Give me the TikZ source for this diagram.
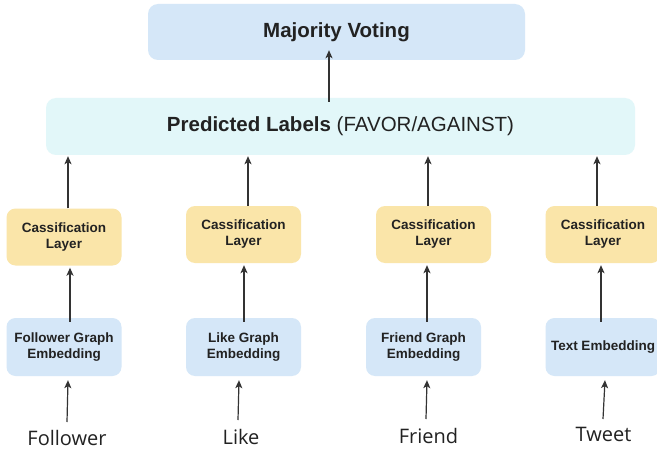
\documentclass[tikz,border=0pt]{standalone}
\usepackage{fontspec}
\setmainfont{Liberation Sans}
\newfontfamily\inlab{Open Sans}
\usetikzlibrary{arrows.meta}
\definecolor{txt}{HTML}{222222}
\definecolor{arrc}{HTML}{333333}
\definecolor{blueb}{HTML}{D5E7F8}
\definecolor{cyanb}{HTML}{E2F7F9}
\definecolor{yelb}{HTML}{FAE5A9}
\tikzset{
  bigbox/.style={rounded corners=10pt, draw=none, text=txt, inner sep=0pt},
  clsbox/.style={rounded corners=9pt, fill=yelb, text=txt, minimum width=115pt, minimum height=57pt,
    align=center, font=\bfseries\fontsize{13.5}{16}\selectfont, inner sep=0pt},
  embbox/.style={rounded corners=9pt, fill=blueb, text=txt, minimum width=115pt, minimum height=58pt,
    align=center, font=\bfseries\fontsize{13.5}{16}\selectfont, inner sep=0pt},
  inputlab/.style={anchor=base, text=txt, font=\inlab\fontsize{20}{24}\selectfont, inner sep=0pt},
  arr/.style={draw=arrc, line width=1.2pt, -{Stealth[length=8pt,width=7pt,inset=2pt]}}
}
\begin{document}
\begin{tikzpicture}[x=1pt,y=-1pt]
\useasboundingbox (0,0) rectangle (657,452);
\clip (0,0) rectangle (657,452);
\fill[white] (0,0) rectangle (657,452);
% top boxes
\node[bigbox, fill=blueb, minimum width=377pt, minimum height=56pt,
      font=\bfseries\fontsize{20.5}{24}\selectfont] (maj) at (336.5,32) {Majority Voting};
\node[bigbox, fill=cyanb, minimum width=589pt, minimum height=57pt,
      font=\fontsize{20.5}{24}\selectfont] (pred) at (340.5,126.5) {\textbf{Predicted Labels} (FAVOR/AGAINST)};
% classification layers
\node[clsbox] (c1) at (64,237) {Cassification\\Layer};
\node[clsbox] (c2) at (243.5,234.5) {Cassification\\Layer};
\node[clsbox] (c3) at (433.5,234.5) {Cassification\\Layer};
\node[clsbox] (c4) at (603,234.5) {Cassification\\Layer};
% embeddings
\node[embbox] (e1) at (64,347) {Follower Graph\\Embedding};
\node[embbox] (e2) at (243.5,347) {Like Graph\\Embedding};
\node[embbox] (e3) at (423.5,347) {Friend Graph\\Embedding};
\node[embbox] (e4) at (603,347) {Text Embedding};
% input labels
\node[inputlab] (l1) at (67,445) {Follower};
\node[inputlab] (l2) at (241,444) {Like};
\node[inputlab] (l3) at (428.5,443) {Friend};
\node[inputlab] (l4) at (603.5,441) {Tweet};
\coordinate (t1) at (67,422);
\coordinate (t2) at (238,420);
\coordinate (t3) at (426,419);
\coordinate (t4) at (603,419);
% arrows
\draw[arr] ([yshift=-4pt]pred.north -| maj.south) ++(-7.5,0) -- ([xshift=-7.5pt,yshift=10pt]maj.south);
\draw[arr] ([xshift=4pt]c1.north) -- ([xshift=4pt,yshift=-1pt]c1.north |- pred.south);
\draw[arr] ([xshift=4.5pt]c2.north) -- ([xshift=4.5pt,yshift=-1pt]c2.north |- pred.south);
\draw[arr] ([xshift=-5.5pt]c3.north) -- ([xshift=-5.5pt,yshift=-1pt]c3.north |- pred.south);
\draw[arr] ([xshift=-6pt]c4.north) -- ([xshift=-6pt,yshift=-1pt]c4.north |- pred.south);
\draw[arr] ([xshift=6pt,yshift=-4pt]e1.north) -- ([xshift=6pt,yshift=-2pt]e1.north |- c1.south);
\draw[arr] ([xshift=0.5pt,yshift=-4pt]e2.north) -- ([xshift=0.5pt,yshift=-2pt]e2.north |- c2.south);
\draw[arr] ([xshift=3.5pt,yshift=-4pt]e3.north) -- ([xshift=3.5pt,yshift=-2pt]e3.north |- c3.south);
\draw[arr] ([xshift=-2pt,yshift=-4pt]e4.north) -- ([xshift=-2pt,yshift=-2pt]e4.north |- c4.south);
\draw[arr] (t1) -- ([xshift=4pt,yshift=-4pt]e1.south);
\draw[arr] (t2) -- ([xshift=-4.5pt,yshift=-4pt]e2.south);
\draw[arr] (t3) -- ([xshift=3.5pt,yshift=-4pt]e3.south);
\draw[arr] (t4) -- ([xshift=2pt,yshift=-4pt]e4.south);
\end{tikzpicture}
\end{document}
